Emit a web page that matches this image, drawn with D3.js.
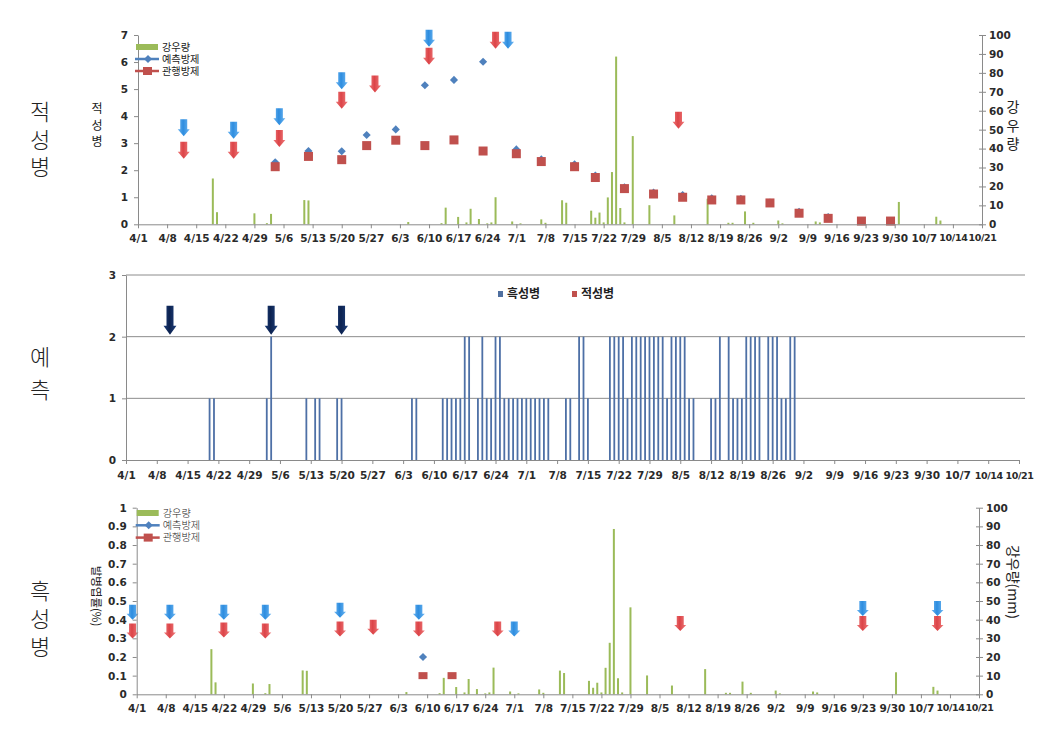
<!DOCTYPE html>
<html><head><meta charset="utf-8">
<script src="https://cdn.jsdelivr.net/npm/d3@7"></script>
<style>html,body{margin:0;padding:0;background:#fff}svg{display:block}</style>
</head><body>
<svg id="c" width="1064" height="730"></svg>
<script>
// ---------------- DATA ----------------
const tickDates = ["4/1","4/8","4/15","4/22","4/29","5/6","5/13","5/20","5/27","6/3","6/10","6/17","6/24","7/1","7/8","7/15","7/22","7/29","8/5","8/12","8/19","8/26","9/2","9/9","9/16","9/23","9/30","10/7","10/14","10/21"];

// daily rainfall (mm)
const rainDates = ["4/19","4/20","4/29","5/2","5/3","5/11","5/12","6/5","6/13","6/14","6/17","6/19","6/20","6/22","6/24","6/25","6/26","6/30","7/2","7/7","7/8","7/12","7/13","7/19","7/20","7/21","7/22","7/23","7/24","7/25","7/26","7/27","7/29","8/2","8/8","8/16","8/21","8/22","8/25","8/27","9/2","9/3","9/11","9/12","10/1","10/10","10/11"];
const rainMM    = [24.2,6.4,5.8,0.6,5.5,12.8,12.6,1.2,0.6,8.8,3.9,1.0,8.2,2.8,0.5,1.0,14.3,1.5,0.5,2.6,0.8,12.7,11.4,7.2,3.5,6.2,1.0,14.2,27.6,88.6,8.6,1.0,46.6,10.1,4.7,13.5,0.8,0.8,6.8,0.8,2.0,0.5,1.5,1.0,11.8,4.0,2.0];

// 적성병 (top panel) survey
const rustDates        = ["5/4","5/12","5/20","5/26","6/2","6/9","6/16","6/23","7/1","7/7","7/15","7/20","7/27","8/3","8/10","8/17","8/24","8/31","9/7","9/14","9/22","9/29"];
const rustForecast     = [2.29,2.71,2.70,3.30,3.51,5.14,5.34,6.01,2.77,2.40,2.22,1.80,1.37,1.17,1.08,0.96,0.94,0.80,0.46,0.27,0.12,0.12];
const rustConventional = [2.13,2.51,2.39,2.91,3.11,2.91,3.12,2.71,2.61,2.32,2.13,1.73,1.32,1.12,1.00,0.90,0.90,0.79,0.41,0.22,0.12,0.12];

// spray arrows (top panel) : date, top level on left axis
const rustForecastSprayDates  = ["4/12","4/24","5/5","5/20","6/10","6/29"];
const rustForecastSprayLevel  = [3.88,3.79,4.29,5.62,7.19,7.12];
const rustConvSprayDates      = ["4/12","4/24","5/5","5/20","5/28","6/10","6/26","8/9"];
const rustConvSprayLevel      = [3.05,3.05,3.49,4.90,5.50,6.53,7.12,4.16];

// 예측 (middle panel): forecast infection level for 흑성병
const riskDates  = ["4/20","4/21","5/3","5/4","5/12","5/14","5/15","5/19","5/20","6/5","6/6","6/12","6/13","6/14","6/15","6/16","6/17","6/18","6/20","6/21","6/22","6/23","6/24","6/25","6/26","6/27","6/28","6/29","6/30","7/1","7/2","7/3","7/4","7/5","7/6","7/10","7/11","7/13","7/14","7/15","7/20","7/21","7/22","7/23","7/24","7/25","7/26","7/27","7/28","7/29","7/30","7/31","8/1","8/2","8/3","8/4","8/5","8/6","8/7","8/8","8/12","8/13","8/14","8/16","8/17","8/18","8/19","8/20","8/21","8/22","8/23","8/25","8/26","8/27","8/28","8/29","8/30","8/31"];
const riskLevel  = [1,1,1,2,1,1,1,1,1,1,1,1,1,1,1,1,2,2,1,2,1,1,2,2,1,1,1,1,1,1,1,1,1,1,1,1,1,2,2,1,2,2,2,2,1,2,2,2,2,2,2,2,2,1,2,2,2,2,1,1,1,1,2,2,1,1,1,2,2,2,2,2,2,2,1,1,2,2];
const riskArrowDates = ["4/11","5/4","5/20"];
const riskArrowLevel = [2.5,2.5,2.5];

// 흑성병 (bottom panel) survey (%)
const scabForecastDates = ["6/9"];
const scabForecast      = [0.2];
const scabConvDates     = ["6/9","6/16"];
const scabConventional  = [0.1,0.1];
const scabForecastSprayDates = ["3/31","4/9","4/22","5/2","5/20","6/8","7/1","9/23","10/11"];
const scabForecastSprayLevel = [0.48,0.48,0.48,0.48,0.49,0.48,0.39,0.50,0.50];
const scabConvSprayDates     = ["3/31","4/9","4/22","5/2","5/20","5/28","6/8","6/27","8/10","9/23","10/11"];
const scabConvSprayLevel     = [0.38,0.38,0.385,0.38,0.39,0.40,0.39,0.39,0.42,0.42,0.42];

const legendLabels = ["강우량", "예측방제", "관행방제"];

// ---------------- HELPERS ----------------
const FONT = "'DejaVu Sans', Verdana, sans-serif";
const KFONT = "'Noto Sans CJK KR', 'Noto Sans', sans-serif";
const LFONT = "'DejaVu Sans', 'Noto Sans CJK KR', sans-serif";
const GREEN = "#9bbb59", BLUE = "#4f81bd", RED = "#c0504d";
const base = new Date(2013, 3, 1);
const dayOf = s => { const [m, d] = s.split('/').map(Number); return d3.timeDay.count(base, new Date(2013, m - 1, d)); };
const tickDays = tickDates.map(dayOf);

const svg = d3.select('#c');
svg.append('rect').attr('width', 1064).attr('height', 730).attr('fill', '#fff');
const defs = svg.append('defs');
function grad(id, edge, mid) {
  const g = defs.append('linearGradient').attr('id', id).attr('x1', '0%').attr('x2', '100%').attr('y1', '0%').attr('y2', '0%');
  g.append('stop').attr('offset', '0%').attr('stop-color', edge);
  g.append('stop').attr('offset', '45%').attr('stop-color', mid);
  g.append('stop').attr('offset', '100%').attr('stop-color', edge);
}
grad('gBlue', '#6db6f2', '#2e8ddf');
grad('gRed', '#ee7a7a', '#dc4448');
grad('gNavy', '#1e3f7a', '#0c2250');

function styleAxis(g, fs) {
  g.select('.domain').attr('stroke', '#8a8a8a').attr('stroke-width', 1);
  g.selectAll('.tick line').attr('stroke', '#8a8a8a');
  g.selectAll('.tick text').attr('font-family', FONT).attr('font-size', fs)
    .attr('font-weight', 'bold').attr('fill', '#2a2a2a');
}
function arrow(g, cx, yTop, o, fill) {
  const { h, w, s, hh } = o;
  const p = d3.path();
  p.moveTo(cx - s / 2, yTop); p.lineTo(cx + s / 2, yTop);
  p.lineTo(cx + s / 2, yTop + h - hh); p.lineTo(cx + w / 2, yTop + h - hh);
  p.lineTo(cx, yTop + h); p.lineTo(cx - w / 2, yTop + h - hh);
  p.lineTo(cx - s / 2, yTop + h - hh); p.closePath();
  g.append('path').attr('d', p.toString()).attr('fill', fill);
}
const diamond = d3.symbol().type(d3.symbolDiamond2).size(42);

function xAxis(x, y0, pad) {
  const g = svg.append('g').attr('transform', `translate(0,${y0})`)
    .call(d3.axisBottom(x).tickValues(tickDays).tickFormat((d, i) => tickDates[i]).tickSize(4).tickSizeOuter(0).tickPadding(pad));
  styleAxis(g, 10.5);
  // the two five-character labels at the right end sit very close together
  g.selectAll('.tick text').filter(function () { return this.textContent.length >= 5; })
    .attr('font-size', 9.5).attr('letter-spacing', -0.35);
}

const textLayer = [];
function legend(x0, y0, dy, fw) {
  const g = svg.append('g');
  g.append('rect').attr('x', x0).attr('y', y0 - 3).attr('width', 22).attr('height', 6).attr('fill', GREEN);
  g.append('line').attr('x1', x0 - 1).attr('x2', x0 + 23).attr('y1', y0 + dy).attr('y2', y0 + dy).attr('stroke', BLUE).attr('stroke-width', 2.5);
  g.append('path').attr('d', diamond).attr('transform', `translate(${x0 + 12},${y0 + dy})`).attr('fill', BLUE);
  g.append('line').attr('x1', x0 - 1).attr('x2', x0 + 23).attr('y1', y0 + 2 * dy).attr('y2', y0 + 2 * dy).attr('stroke', RED).attr('stroke-width', 2.5);
  g.append('rect').attr('x', x0 + 7).attr('y', y0 + 2 * dy - 4).attr('width', 9).attr('height', 8).attr('fill', RED);
  legendLabels.forEach((t, i) => textLayer.push({ x: x0 + 26, y: y0 + i * dy, t, fw }));
}

function datePanel(o) {
  const x = d3.scaleLinear([0, 203], [o.x0, o.x1]);
  const y = d3.scaleLinear([0, o.yMax], [o.yb, o.yt]);
  const r = d3.scaleLinear([0, 100], [o.yb, o.yt]);
  const g = svg.append('g');
  g.selectAll('rect.rain').data(rainDates).join('rect').attr('class', 'rain')
    .attr('x', d => x(dayOf(d)) - 1).attr('width', 2)
    .attr('y', (d, i) => r(rainMM[i])).attr('height', (d, i) => r(0) - r(rainMM[i]))
    .attr('fill', GREEN);
  xAxis(x, o.yb, 6);
  const gl = svg.append('g').attr('transform', `translate(${o.x0},0)`)
    .call(d3.axisLeft(y).tickValues(o.yTicks).tickFormat(o.fmt).tickSize(4).tickSizeOuter(0).tickPadding(6));
  styleAxis(gl, 10.5);
  const gr = svg.append('g').attr('transform', `translate(${o.x1},0)`)
    .call(d3.axisRight(r).tickValues(d3.range(0, 101, 10)).tickSize(4).tickSizeOuter(0).tickPadding(3));
  styleAxis(gr, 10.5);
  gr.selectAll('.tick line').attr('x1', -3);
  g.selectAll('path.fc').data(o.fDates).join('path').attr('class', 'fc')
    .attr('d', diamond).attr('fill', BLUE)
    .attr('transform', (d, i) => `translate(${x(dayOf(d))},${y(o.fVals[i])})`);
  g.selectAll('rect.cv').data(o.cDates).join('rect').attr('class', 'cv')
    .attr('x', d => x(dayOf(d)) - 4.5).attr('width', 9)
    .attr('y', (d, i) => y(o.cVals[i]) - o.sqH / 2).attr('height', o.sqH)
    .attr('fill', RED);
  o.faDates.forEach((d, i) => arrow(g, x(dayOf(d)), y(o.faVals[i]), o.arr, 'url(#gBlue)'));
  o.caDates.forEach((d, i) => arrow(g, x(dayOf(d)), y(o.caVals[i]), o.arr, 'url(#gRed)'));
  return { x, y, r };
}

// ---------------- TOP PANEL (적성병) ----------------
datePanel({
  x0: 138, x1: 982, yb: 224.3, yt: 35, yMax: 7, yTicks: d3.range(0, 8), fmt: d3.format('d'),
  fDates: rustDates, fVals: rustForecast, cDates: rustDates, cVals: rustConventional, sqH: 9,
  faDates: rustForecastSprayDates, faVals: rustForecastSprayLevel,
  caDates: rustConvSprayDates, caVals: rustConvSprayLevel,
  arr: { h: 17, w: 12, s: 7, hh: 7 }
});
legend(136, 47, 12, 400);

// ---------------- BOTTOM PANEL (흑성병) ----------------
datePanel({
  x0: 136.7, x1: 979, yb: 694.3, yt: 507.7, yMax: 1, yTicks: d3.range(0, 11).map(v => v / 10),
  fmt: d => d === 0 ? '0' : d3.format('~g')(d),
  fDates: scabForecastDates, fVals: scabForecast, cDates: scabConvDates, cVals: scabConventional, sqH: 7,
  faDates: scabForecastSprayDates, faVals: scabForecastSprayLevel,
  caDates: scabConvSprayDates, caVals: scabConvSprayLevel,
  arr: { h: 15, w: 12, s: 7, hh: 6 }
});
legend(136.7, 513, 12.3, 300);

// ---------------- MIDDLE PANEL (예측) ----------------
(function () {
  const x = d3.scaleLinear([0, 203], [126, 1019]);
  const y = d3.scaleLinear([0, 3], [460, 275]);
  const g = svg.append('g');
  g.selectAll('line.grid').data([1, 2, 3]).join('line').attr('class', 'grid')
    .attr('x1', 126).attr('x2', 1025).attr('y1', d => y(d)).attr('y2', d => y(d))
    .attr('stroke', '#8c8c8c').attr('stroke-width', 1);
  g.selectAll('rect.risk').data(riskDates).join('rect').attr('class', 'risk')
    .attr('x', d => x(dayOf(d)) - 0.9).attr('width', 1.8)
    .attr('y', (d, i) => y(riskLevel[i])).attr('height', (d, i) => y(0) - y(riskLevel[i]))
    .attr('fill', '#4e70a6');
  xAxis(x, 460, 8);
  const gl = svg.append('g').attr('transform', 'translate(126,0)')
    .call(d3.axisLeft(y).tickValues([0, 1, 2, 3]).tickFormat(d3.format('d')).tickSize(4).tickSizeOuter(0).tickPadding(6));
  styleAxis(gl, 10.5);
  riskArrowDates.forEach((d, i) => arrow(g, x(dayOf(d)), y(riskArrowLevel[i]), { h: 29, w: 13, s: 7, hh: 9 }, 'url(#gNavy)'));
  const lg = svg.append('g');
  [["흑성병", "#4f6f9f", 498], ["적성병", RED, 572]].forEach(([t, c, lx]) => {
    lg.append('rect').attr('x', lx).attr('y', 291).attr('width', 5).attr('height', 6).attr('fill', c);
    lg.append('text').attr('x', lx + 9).attr('y', 294).attr('dy', '0.35em')
      .attr('font-family', KFONT).attr('font-size', 12).attr('font-weight', 'bold').attr('fill', '#222').text(t);
  });
})();

// legend texts drawn last, on top of everything
const tl = svg.append('g').attr('class', 'legend-text');
textLayer.forEach(d => tl.append('text').attr('x', d.x).attr('y', d.y).attr('dy', '0.36em')
  .attr('font-family', LFONT).attr('font-size', 10.2).attr('font-weight', d.fw)
  .attr('fill', '#1a1a1a').text(d.t));

// ---------------- LABELS ----------------
function stacked(chars, x, ys, fs, fw) {
  chars.forEach((c, i) => svg.append('text').attr('x', x).attr('y', ys[i]).attr('dy', '0.35em')
    .attr('text-anchor', 'middle').attr('font-family', LFONT).attr('font-size', fs)
    .attr('font-weight', fw).attr('fill', '#222').text(c));
}
stacked(["적", "성", "병"], 40, [112, 140, 167], 22, 300);
stacked(["예", "측"], 40, [357, 390], 22, 300);
stacked(["흑", "성", "병"], 40, [591, 619, 647], 22, 300);
stacked(["적", "성", "병"], 97, [109, 126, 142], 12, 400);
stacked(["강", "우", "량"], 1013, [107, 126, 144], 14, 400);
svg.append('text').attr('transform', 'translate(96,596) rotate(90)').attr('text-anchor', 'middle').attr('dy', '0.35em')
  .attr('font-family', KFONT).attr('font-size', 11.5).attr('fill', '#222').text('발병엽률(%)');
svg.append('text').attr('transform', 'translate(1013,582) rotate(90)').attr('text-anchor', 'middle').attr('dy', '0.35em')
  .attr('font-family', KFONT).attr('font-size', 14).attr('fill', '#222').text('강우량(mm)');
</script>
</body></html>
